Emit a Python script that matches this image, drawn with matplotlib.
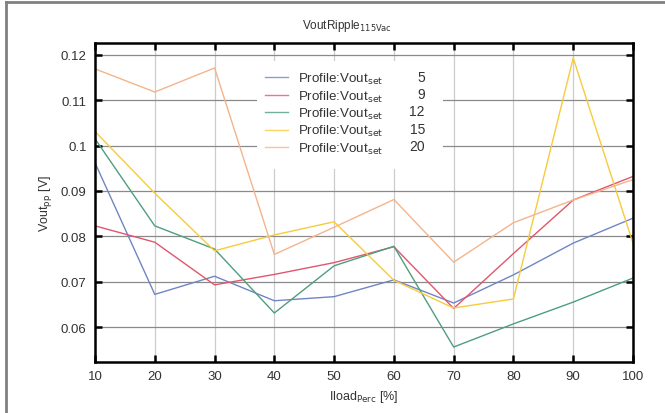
import numpy as np
import matplotlib
matplotlib.use('Agg')
import matplotlib.pyplot as plt
from matplotlib.lines import Line2D
from matplotlib.patches import Rectangle

# load in percent
iload = [10, 20, 30, 40, 50, 60, 70, 80, 90, 100]

# ripple per Vout setting
vset = ['5', '9', '12', '15', '20']
ripple_5 = [0.0962, 0.0672, 0.0712, 0.0658, 0.0667, 0.0704, 0.0653, 0.0715, 0.0785, 0.0840]
ripple_9 = [0.0823, 0.0787, 0.0693, 0.0716, 0.0742, 0.0777, 0.0641, 0.0762, 0.0880, 0.0932]
ripple_12 = [0.1015, 0.0823, 0.0772, 0.0631, 0.0735, 0.0778, 0.0556, 0.0607, 0.0655, 0.0708]
ripple_15 = [0.1031, 0.0895, 0.0768, 0.0803, 0.0832, 0.0703, 0.0642, 0.0662, 0.1193, 0.0785]
ripple_20 = [0.1169, 0.1118, 0.1171, 0.0760, 0.0820, 0.0881, 0.0743, 0.0830, 0.0880, 0.0925]

colors = ['#6f86c4', '#e0566e', '#4f9e7e', '#f6cb3c', '#f4b48c']

plt.rcParams['font.family'] = ['Liberation Sans', 'DejaVu Sans']

fig = plt.figure(figsize=(6.65, 4.14), dpi=100)
ax = fig.add_axes([95/665, 1-363/414, (633-95)/665, (363-44)/414])

# frame of the cropped screenshot
fig.add_artist(Line2D([6/665, 6/665], [0, 1-3/414], color='#808080', lw=2.0, transform=fig.transFigure))
fig.add_artist(Line2D([6/665, 1], [1-3/414, 1-3/414], color='#808080', lw=2.0, transform=fig.transFigure))

series = [ripple_5, ripple_9, ripple_12, ripple_15, ripple_20]
for vals, c in zip(series, colors):
    ax.plot(iload, vals, color=c, lw=1.0, zorder=3, label='Profile:Vout$_{\\mathrm{set}}$')

ax.set_xlim(10, 100)
ax.set_ylim(0.0523, 0.1226)
ax.set_xticks(iload)
ax.set_yticks([0.06, 0.07, 0.08, 0.09, 0.1, 0.11, 0.12])
ax.set_yticklabels(['0.06', '0.07', '0.08', '0.09', '0.1', '0.11', '0.12'])

ax.grid(axis='y', color='#8a8a8a', lw=0.9)
ax.grid(axis='x', color='#cccccc', lw=0.9)
ax.set_axisbelow(True)
for s in ax.spines.values():
    s.set_linewidth(1.8)
    s.set_zorder(5)
ax.tick_params(direction='in', length=5, width=1.8, top=True, right=True,
               labelsize=9.5, colors='black', labelcolor='#333333', pad=6)

fig.text(347/665, 1-26/414, 'VoutRipple$_{\\mathrm{115Vac}}$', ha='center', va='center',
         fontsize=8.5, color='#333333')
ax.set_xlabel('Iload$_{\\mathrm{Perc}}$ [%]', fontsize=9, color='#333333', labelpad=4)
ax.set_ylabel('Vout$_{\\mathrm{pp}}$ [V]', fontsize=9, color='#333333', labelpad=5)

# white key box over the grid
ax.add_patch(Rectangle((0.301, 0.605), 0.346, 0.339, transform=ax.transAxes,
                       facecolor='white', edgecolor='none', zorder=2))

leg = ax.legend(loc='upper left', bbox_to_anchor=(0.316, 0.912), frameon=False,
                fontsize=9.6, handlelength=1.75, handletextpad=0.7, labelspacing=0.17,
                borderpad=0, borderaxespad=0)
for t in leg.get_texts():
    t.set_color('#333333')
for h in leg.get_lines():
    h.set_alpha(0.8)

# numbers column after the legend labels
fig.canvas.draw()
inv = fig.transFigure.inverted()
for t, v in zip(leg.get_texts(), vset):
    bb = t.get_window_extent()
    x, y = inv.transform((425, (bb.y0 + bb.y1) / 2 + 2))
    fig.text(x, y, v, ha='right', va='center', fontsize=10, color='#333333')

fig.savefig('out.png', dpi=100)
